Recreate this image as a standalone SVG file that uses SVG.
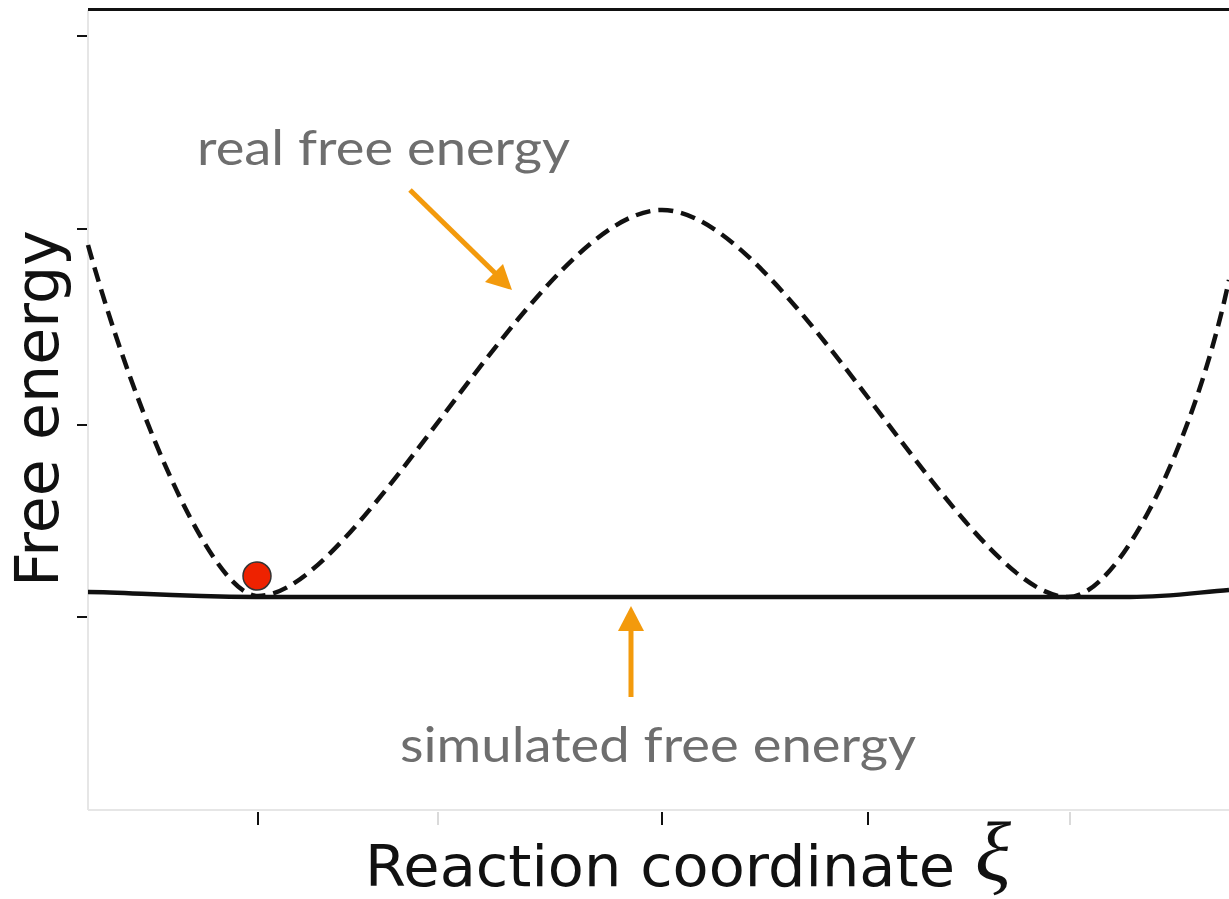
<svg xmlns="http://www.w3.org/2000/svg" width="1229" height="899" viewBox="0 0 1229 899">
  <style>
    .axis { stroke: #e6e6e6; stroke-width: 2; fill: none; }
    .tick { stroke: #111; stroke-width: 2; }
    .ltick { stroke: #dadada; stroke-width: 2; }
    .note { font-family: Lato, "Open Sans", sans-serif; fill: #6e6e6e; }
    .lab { font-family: "DejaVu Sans", "Liberation Sans", sans-serif; fill: #111; }
    .arrow { stroke: #f39a0c; stroke-width: 5; fill: none; }
    .head { fill: #f39a0c; }
  </style>
  <rect width="1229" height="899" fill="#ffffff"/>
  <g id="axes">
    <line class="axis" x1="88" y1="10" x2="88" y2="810"/>
    <line class="axis" x1="88" y1="810" x2="1229" y2="810"/>
    <line x1="88" y1="9.5" x2="1229" y2="9.5" stroke="#111" stroke-width="3"/>
    <line class="tick" x1="77" y1="36" x2="87" y2="36"/>
    <line class="tick" x1="77" y1="229" x2="87" y2="229"/>
    <line class="tick" x1="77" y1="425" x2="87" y2="425"/>
    <line class="tick" x1="77" y1="617" x2="87" y2="617"/>
    <line class="tick" x1="258" y1="812" x2="258" y2="825"/>
    <line class="tick" x1="662" y1="812" x2="662" y2="825"/>
    <line class="tick" x1="868" y1="812" x2="868" y2="825"/>
    <line class="ltick" x1="438" y1="812" x2="438" y2="825"/>
    <line class="ltick" x1="1070" y1="812" x2="1070" y2="825"/>
  </g>
  <g id="real-curve">
    <path d="M 88 245 C 140 430, 215 596, 258 596 C 360 596, 540 210, 662 210 C 784 210, 966 597, 1068 597 C 1120 597, 1195 440, 1229 280" fill="none" stroke="#111" stroke-width="4.5" stroke-dasharray="15 8"/>
  </g>
  <g id="simulated-curve">
    <path d="M 88 592 C 130 592, 170 597, 260 597 L 1130 597 C 1170 597, 1200 592, 1229 590" fill="none" stroke="#111" stroke-width="4.5"/>
  </g>
  <g id="ball">
    <circle cx="257" cy="576" r="14" fill="#ee2200" stroke="#333" stroke-width="1.5"/>
  </g>
  <g id="connectors">
    <line class="arrow" x1="410" y1="190" x2="496" y2="274"/>
    <polygon class="head" points="512,290 485,282 503,264"/>
    <line class="arrow" x1="631" y1="697" x2="631" y2="628"/>
    <polygon class="head" points="631,606 618,631 644,631"/>
  </g>
  <g id="label-real">
    <text class="note" x="197" y="165" font-size="48" textLength="373" lengthAdjust="spacingAndGlyphs">real free energy</text>
  </g>
  <g id="label-simulated">
    <text class="note" x="400" y="762" font-size="48" textLength="516" lengthAdjust="spacingAndGlyphs">simulated free energy</text>
  </g>
  <g id="xlabel">
    <text class="lab" x="365" y="886" font-size="57" textLength="590" lengthAdjust="spacingAndGlyphs">Reaction coordinate</text>
    <text x="975" y="880" font-family="Liberation Serif, serif" font-style="italic" font-size="84" fill="#111">ξ</text>
  </g>
  <g id="ylabel">
    <text class="lab" transform="translate(58,587) rotate(-90)" x="0" y="0" font-size="60" textLength="357" lengthAdjust="spacingAndGlyphs">Free energy</text>
  </g>
</svg>
